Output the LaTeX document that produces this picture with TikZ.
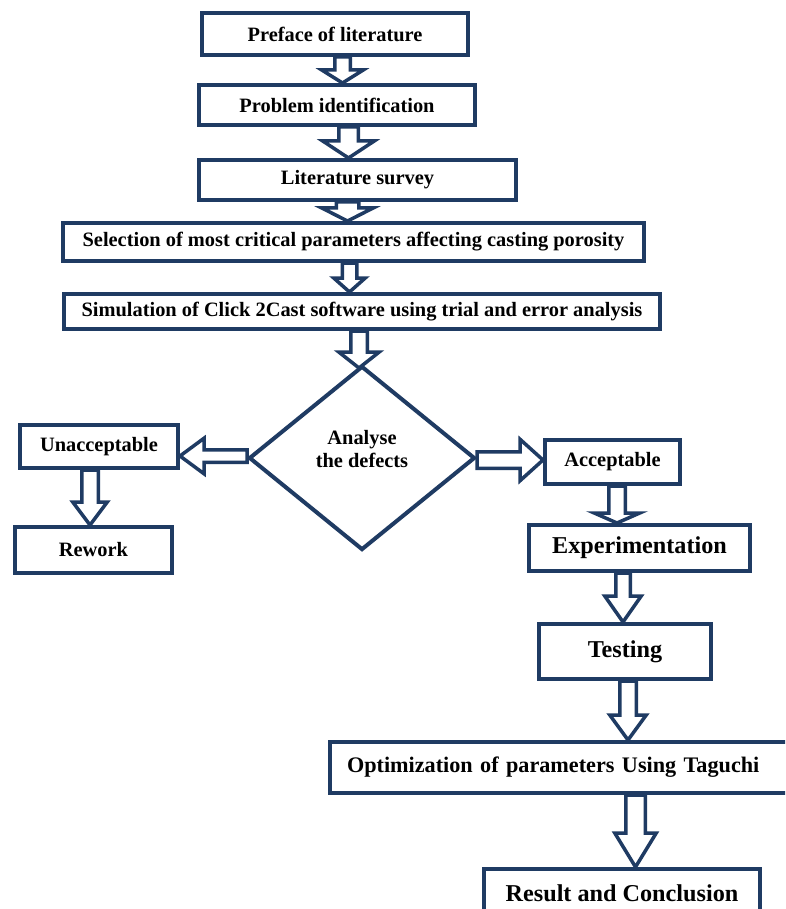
\documentclass[tikz,border=0pt]{standalone}
\usepackage{fontspec}
\setmainfont{Liberation Serif}
\usetikzlibrary{shapes.geometric,calc,backgrounds}
\definecolor{navy}{HTML}{1F3B63}
\tikzset{
  box/.style={draw=navy, line width=4pt, fill=white, inner sep=0pt,
    font=\bfseries\fontsize{20.4}{24}\selectfont},
  bigtext/.style={font=\bfseries\fontsize{24.2}{28}\selectfont},
  barrow/.style={draw=navy, line width=3.5pt, fill=white, line join=miter},
}
% vertical block arrow: from, to, x centre, half shaft, half head, head length
\newcommand\darrow[6]{%
  \draw[barrow] let \p1=(#1.south), \p2=(#2.north) in
    (#3pt-#4pt,\y1) -- (#3pt-#4pt,\y2+#6pt) -- (#3pt-#5pt,\y2+#6pt) -- (#3pt,\y2)
    -- (#3pt+#5pt,\y2+#6pt) -- (#3pt+#4pt,\y2+#6pt) -- (#3pt+#4pt,\y1) -- cycle;}
% horizontal block arrow: tail point, tip point, y centre, half shaft, half head, signed head length
\newcommand\harrow[6]{%
  \draw[barrow] let \p1=(#1), \p2=(#2) in
    (\x1,#3pt+#4pt) -- (\x2-#6pt,#3pt+#4pt) -- (\x2-#6pt,#3pt+#5pt) -- (\x2,#3pt)
    -- (\x2-#6pt,#3pt-#5pt) -- (\x2-#6pt,#3pt-#4pt) -- (\x1,#3pt-#4pt) -- cycle;}
\begin{document}
\begin{tikzpicture}
\useasboundingbox (0pt,0pt) rectangle (785pt,-909pt);
\clip (0pt,0pt) rectangle (785pt,-909pt);

\node[box, minimum width=266pt, minimum height=42pt] (n1) at (335pt,-34pt) {Preface of literature};
\node[box, minimum width=276pt, minimum height=40pt] (n2) at (337pt,-105pt) {Problem identification};
\node[box, minimum width=317pt, minimum height=40pt] (n3) at (357.5pt,-180pt) {Literature survey};
\node[box, minimum width=581pt, minimum height=38pt] (n4) at (353.5pt,-242pt) {Selection of most critical parameters affecting casting porosity};
\node[box, minimum width=596pt, minimum height=35pt] (n5) at (362pt,-311.5pt) {Simulation of Click 2Cast software using trial and error analysis};

\node[diamond, draw=navy, line width=4pt, inner sep=0pt, minimum width=226pt, minimum height=184pt] (dia) at (362pt,-458pt) {};
\node[font=\bfseries\fontsize{20.4}{22.5}\selectfont, align=center, inner sep=0pt] (dtext) at (362pt,-449pt) {Analyse\\the defects};

\node[box, minimum width=158pt, minimum height=43pt] (unacc) at (99pt,-446.5pt) {Unacceptable};
\node[box, minimum width=157pt, minimum height=46pt] (rework) at (93.5pt,-550pt) {Rework};
\node[box, minimum width=135pt, minimum height=44pt] (acc) at (612.5pt,-462pt) {Acceptable};
\node[box, bigtext, minimum width=221pt, minimum height=46pt] (exper) at (639.5pt,-548pt) {Experimentation};
\node[box, bigtext, minimum width=172pt, minimum height=55pt] (test) at (625pt,-651.5pt) {Testing};
\node[box, font=\bfseries\fontsize{22.2}{26}\selectfont, anchor=west, minimum height=51pt,
      inner xsep=17pt, text width=540pt, align=left] (opt) at (328pt,-767.5pt) {Optimization of parameters Using Taguchi};
\node[box, bigtext, minimum width=276pt, minimum height=48pt] (res) at (622pt,-893pt) {Result and Conclusion};

\begin{scope}[on background layer]
  \fill[white] (0pt,0pt) rectangle (785pt,-909pt);
  \darrow{n1}{n2}{342.5}{7.75}{20.75}{13}
  \darrow{n2}{n3}{348.5}{9.75}{25.75}{17}
  \darrow{n3}{n4}{347.5}{11.25}{25.75}{13}
  \darrow{n4}{n5}{349.5}{7.25}{15.75}{14}
  \draw[barrow] let \p1=(n5.south), \p2=(dia.north) in
    (350.75pt,\y1) -- (350.75pt,\y2+12pt) -- (338.75pt,\y2+12pt) -- (359pt,\y2-4pt)
    -- (379.25pt,\y2+12pt) -- (367.25pt,\y2+12pt) -- (367.25pt,\y1) -- cycle;
  \harrow{dia.west}{unacc.east}{-456}{6.25}{17.75}{-24}
  \harrow{dia.east}{acc.west}{-460}{8.25}{20.75}{23}
  \darrow{unacc}{rework}{90}{8.25}{17.25}{23}
  \darrow{acc}{exper}{617}{8.25}{22.75}{10}
  \darrow{exper}{test}{623}{7.25}{18.25}{26}
  \darrow{test}{opt}{628}{8.25}{18.25}{25}
  \darrow{opt}{res}{635.5}{9.75}{20.75}{34}
\end{scope}
\end{tikzpicture}
\end{document}
